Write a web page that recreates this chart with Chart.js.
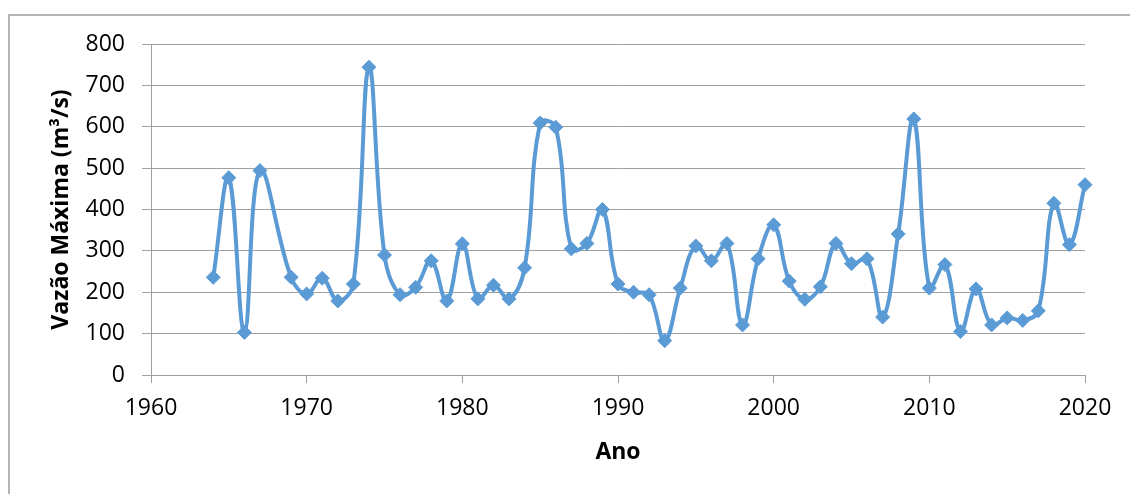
<!DOCTYPE html>
<html>
<head>
<meta charset="utf-8">
<script src="https://cdn.jsdelivr.net/npm/chart.js@4/dist/chart.umd.min.js"></script>
<style>
  body { margin: 0; background: #fff; }
  #wrap { position: relative; width: 1130px; height: 494px; overflow: hidden; }
  #frame { position: absolute; left: 8px; top: 14px; width: 2000px; height: 1000px;
           border-left: 2px solid #b4b4b4; border-top: 2px solid #b4b4b4; }
  #chart { position: absolute; left: 0; top: 0; }
</style>
</head>
<body>
<div id="wrap">
  <div id="frame"></div>
  <canvas id="chart" width="1130" height="494"></canvas>
</div>
<script>
// annual maximum flow, 1968 missing in the series
const years = [
    1964, 1965, 1966, 1967, 1969, 1970, 1971, 1972, 1973, 1974,
    1975, 1976, 1977, 1978, 1979, 1980, 1981, 1982, 1983, 1984,
    1985, 1986, 1987, 1988, 1989, 1990, 1991, 1992, 1993, 1994,
    1995, 1996, 1997, 1998, 1999, 2000, 2001, 2002, 2003, 2004,
    2005, 2006, 2007, 2008, 2009, 2010, 2011, 2012, 2013, 2014,
    2015, 2016, 2017, 2018, 2019, 2020,
];
const maxFlow = [
    236, 477, 103, 494, 236, 196, 234, 179, 220, 744,
    290, 194, 212, 276, 179, 317, 184, 217, 184, 259,
    609, 599, 305, 318, 400, 220, 200, 194, 83, 210,
    312, 276, 318, 121, 281, 363, 227, 183, 213, 318,
    269, 281, 140, 341, 619, 210, 267, 105, 208, 121,
    138, 132, 155, 415, 315, 460,
];
const xTicks = [1960, 1970, 1980, 1990, 2000, 2010, 2020];
const yTicks = [0, 100, 200, 300, 400, 500, 600, 700, 800];

const blue = '#5B9BD5';
const gridColor = '#a0a0a0';
const tickFont = { family: 'Open Sans', size: 23 };
const titleFont = { family: 'Open Sans', size: 23, weight: 'bold' };

const points = years.map((year, i) => ({ x: year, y: maxFlow[i] }));

new Chart(document.getElementById('chart'), {
    type: 'line',
    data: {
        datasets: [{
            label: 'Vazão Máxima',
            data: points,
            borderColor: blue,
            backgroundColor: blue,
            borderWidth: 4,
            tension: 0.4,
            clip: false,
            pointStyle: 'rectRot',
            pointRadius: 7,
            pointBackgroundColor: blue,
            pointBorderColor: blue,
            pointBorderWidth: 1,
        }],
    },
    options: {
        responsive: false,
        animation: false,
        layout: { padding: { top: 44, right: 45, bottom: 0, left: 0 } },
        plugins: { legend: { display: false }, tooltip: { enabled: false } },
        scales: {
            x: {
                type: 'linear',
                min: xTicks[0],
                max: xTicks[xTicks.length - 1],
                afterBuildTicks: (scale) => { scale.ticks = xTicks.map((v) => ({ value: v })); },
                afterFit: (scale) => { scale.height = 119; },
                grid: { drawOnChartArea: false, drawTicks: true, tickLength: 8, color: gridColor },
                border: { color: gridColor, width: 1 },
                ticks: {
                    font: tickFont,
                    color: '#000',
                    padding: 12,
                    maxRotation: 0,
                    callback: (v) => String(v),
                },
                title: { display: true, text: 'Ano', font: titleFont, color: '#000', padding: { bottom: 28 } },
            },
            y: {
                min: yTicks[0],
                max: yTicks[yTicks.length - 1],
                afterBuildTicks: (scale) => { scale.ticks = yTicks.map((v) => ({ value: v })); },
                afterFit: (scale) => { scale.width = 151; },
                grid: { color: gridColor, tickLength: 9 },
                border: { color: gridColor, width: 1 },
                ticks: { font: tickFont, color: '#000', padding: 17 },
                title: { display: true, text: 'Vazão Máxima (m³/s)', font: titleFont, color: '#000', padding: { top: 48 } },
            },
        },
    },
});
</script>
</body>
</html>
